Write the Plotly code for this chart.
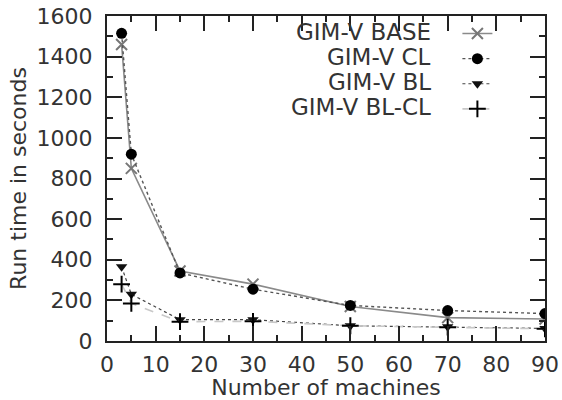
import plotly.graph_objects as go

machines = [3, 5, 15, 30, 50, 70, 90]
base = [1460, 850, 345, 280, 170, 115, 108]
cl = [1515, 920, 335, 255, 175, 150, 135]
bl = [365, 230, 105, 105, 75, 70, 62]
blcl = [280, 185, 95, 97, 75, 68, 60]

series_names = ["GIM-V BASE", "GIM-V CL", "GIM-V BL", "GIM-V BL-CL"]
series_vals = [base, cl, bl, blcl]
line_styles = [
    dict(color="#8a8a8a", width=1.6, dash="solid"),
    dict(color="#555555", width=1.4, dash="dot"),
    dict(color="#444444", width=1.2, dash="dot"),
    dict(color="#c8c8c8", width=1.6, dash="dash"),
]
marker_styles = [
    dict(symbol="x-thin", size=11, color="#777777", line=dict(color="#777777", width=2)),
    dict(symbol="circle", size=11, color="#000000"),
    dict(symbol="triangle-down", size=10, color="#111111"),
    dict(symbol="cross-thin", size=12, color="#000000", line=dict(color="#000000", width=2)),
]

FONT = "DejaVu Sans"
fig = go.Figure()
for name, vals, ls, ms in zip(series_names, series_vals, line_styles, marker_styles):
    fig.add_trace(go.Scatter(
        x=machines, y=vals, mode="lines+markers", name=" ",
        line=ls, marker=ms,
    ))

axis_common = dict(
    showgrid=False, zeroline=False, showline=True, linecolor="#222222", linewidth=2,
    mirror="ticks", ticks="inside", ticklen=15, tickwidth=2, tickcolor="#222222",
    tickfont=dict(family=FONT, size=22, color="#333333"), automargin=False,
    ticklabeloverflow="allow",
)
fig.update_xaxes(range=[0, 90], dtick=10, tick0=0, ticklabelstandoff=3,
                 minor=dict(ticks="inside", ticklen=6, tickwidth=2, dtick=5, tickcolor="#222222"),
                 title=dict(text="Number of machines", font=dict(family=FONT, size=22, color="#333333"), standoff=6),
                 **axis_common)
fig.update_yaxes(range=[0, 1600], dtick=200, tick0=0, ticklabelstandoff=8,
                 minor=dict(ticks="inside", ticklen=6, tickwidth=2, dtick=100, tickcolor="#222222"),
                 title=dict(text="Run time in seconds", font=dict(family=FONT, size=22, color="#333333"), standoff=4),
                 **axis_common)

legend_rows = [0.951, 0.874, 0.797, 0.720]
for name, yy in zip(series_names, legend_rows):
    fig.add_annotation(xref="paper", yref="paper", x=0.745, y=yy, text=name,
                       showarrow=False, xanchor="right", yanchor="middle",
                       font=dict(family=FONT, size=23, color="#333333"))

fig.update_layout(
    template="none",
    width=562, height=400,
    margin=dict(l=107, r=17, t=16, b=59),
    paper_bgcolor="white", plot_bgcolor="white",
    showlegend=True,
    legend=dict(x=0.80, y=1.0, xanchor="left", yanchor="top",
                bgcolor="rgba(0,0,0,0)", font=dict(family=FONT, size=17),
                itemwidth=30, tracegroupgap=0),
)
# remove the browser's default 8px body margin so the figure fills the window
fig.write_html("out.html", config={"displayModeBar": False},
               post_script="document.body.style.margin='0';")
